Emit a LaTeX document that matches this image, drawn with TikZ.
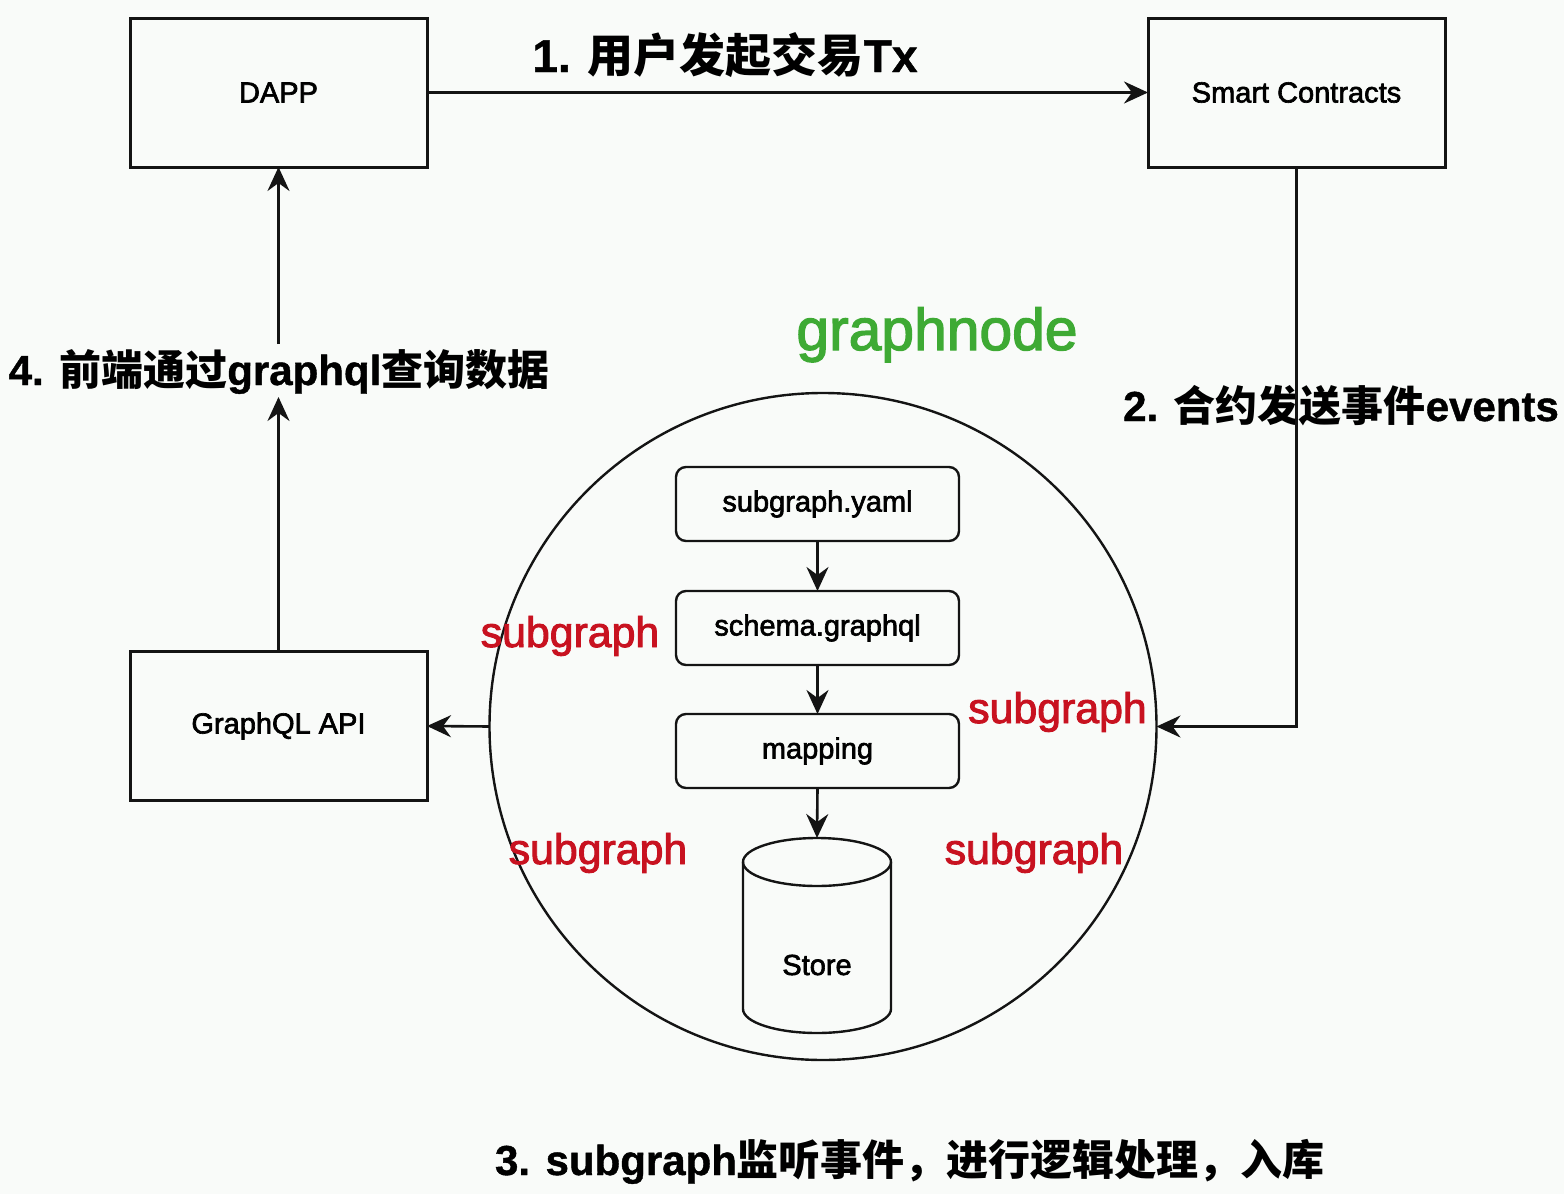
\documentclass[tikz,border=0pt]{standalone}
\usepackage{fontspec}
\setmainfont{Liberation Sans}[FakeBold=1]
\newfontfamily\medium{Liberation Sans}[FakeBold=2.2]
\newfontfamily\cjk{Noto Sans CJK SC}
\usetikzlibrary{arrows.meta}
\definecolor{bgc}{RGB}{249,251,249}
\definecolor{redc}{RGB}{200,18,32}
\definecolor{greenc}{RGB}{62,170,52}
\definecolor{linec}{RGB}{20,20,20}
\tikzset{
  bigbox/.style={draw=linec, line width=1.5pt, minimum width=148.5pt, minimum height=74.5pt, inner sep=0pt, outer sep=0pt, font=\medium\fontsize{14.5}{17}\selectfont},
  rbox/.style={draw=linec, line width=1.2pt, rounded corners=5pt, minimum width=141.5pt, minimum height=37pt, inner sep=0pt, outer sep=0pt, font=\medium\fontsize{14.5}{17}\selectfont},
  arr/.style={-{Stealth[length=12pt,width=11pt,inset=4pt]}, line width=1.3pt, draw=linec},
  redlab/.style={text=redc, anchor=base, inner sep=0pt, font=\medium\fontsize{21.4}{25}\selectfont},
  steplab/.style={anchor=base, inner sep=0pt, text=black, font=\fontsize{21}{25}\selectfont\bfseries},
  cyl/.style={draw=linec, line width=1.2pt},
}
\newcommand{\zh}[1]{{\cjk\bfseries #1}}
\begin{document}
\begin{tikzpicture}[x=0.5pt,y=-0.5pt]
\fill[bgc] (0,0) rectangle (1564,1194);
\useasboundingbox (0,0) rectangle (1564,1194);

% main boxes
\node[bigbox] (dapp) at (278.5,92.5) {DAPP};
\node[bigbox] (sc) at (1296.5,92.5) {Smart Contracts};
\node[bigbox] (api) at (278.5,726) {GraphQL API};

% graph node circle
\node[circle, draw=linec, line width=1.2pt, minimum size=333.5pt, inner sep=0pt, outer sep=0pt] (gn) at (823,726.5) {};
\node[anchor=base, inner sep=0pt, text=greenc, font=\medium\fontsize{29.4}{34}\selectfont] (gnlab) at (937,350) {graphnode};

% inner boxes
\node[rbox] (yaml) at (817.5,504) {subgraph.yaml};
\node[rbox] (schema) at (817.5,628) {schema.graphql};
\node[rbox] (mapping) at (817.5,751) {mapping};

% store cylinder
\fill[bgc] (743,862) -- (743,1009) arc[start angle=180,end angle=360,x radius=37pt,y radius=12pt] -- (891,862) arc[start angle=0,end angle=180,x radius=37pt,y radius=12pt] -- cycle;
\draw[cyl] (743,862) -- (743,1009) arc[start angle=180,end angle=360,x radius=37pt,y radius=12pt] -- (891,862);
\draw[cyl] (817,862) ellipse [x radius=37pt, y radius=12pt];
\coordinate (storetop) at (817,838);
\node[inner sep=0pt, font=\medium\fontsize{14.5}{17}\selectfont] (storelab) at (817,965) {Store};

% red subgraph labels
\node[redlab] (sg1) at (570,647) {subgraph};
\node[redlab] (sg2) at (1057.5,723) {subgraph};
\node[redlab] (sg3) at (598,864) {subgraph};
\node[redlab] (sg4) at (1034,864) {subgraph};

% step labels
\node[steplab, font=\fontsize{23}{27}\selectfont\bfseries] (l1) at (725,72) {1. \zh{用户发起交易}Tx};
\node[steplab] (l2) at (1341,421) {2. \zh{合约发送事件}events};
\node[steplab] (l3) at (910,1175) {3. subgraph\zh{监听事件，进行逻辑处理，入库}};
\node[steplab] (l4) at (279,385) {4. \zh{前端通过}graphql\zh{查询数据}};
\coordinate (l4top) at (278.5,344);
\coordinate (l4bot) at (278.5,397);

% connectors
\draw[arr] (dapp.east) -- (sc.west);
\draw[arr] (sc.south) |- (gn.east);
\draw[arr] (gn.west) -- (api.east);
\draw[arr] (api.north) -- (l4bot);
\draw[arr] (l4top) -- (dapp.south);
\draw[arr] (yaml.south) -- (schema.north);
\draw[arr] (schema.south) -- (mapping.north);
\draw[arr] (mapping.south) -- (storetop);
\end{tikzpicture}
\end{document}
